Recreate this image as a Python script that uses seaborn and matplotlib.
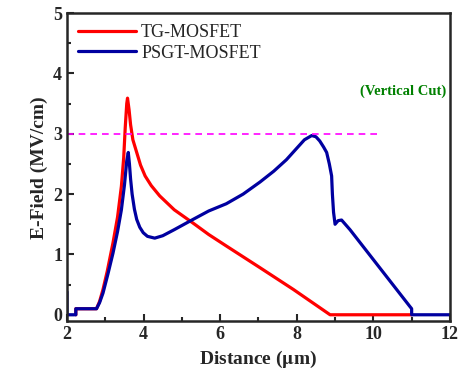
import pandas as pd
import matplotlib.pyplot as plt
import seaborn as sns
from matplotlib.ticker import MultipleLocator

# E-field along vertical cut
tg_x = [2.23, 2.23, 2.77, 2.85, 2.94, 3.05, 3.2, 3.32, 3.42, 3.48, 3.52, 3.56, 3.58,
        3.62, 3.66, 3.72, 3.82, 3.92, 4.04, 4.2, 4.42, 4.8, 5.29, 5.7, 6.16, 7.04,
        7.91, 8.87, 11.0]
tg_y = [0.0, 0.1, 0.1, 0.22, 0.42, 0.72, 1.19, 1.62, 2.13, 2.6, 3.1, 3.5, 3.59,
        3.4, 3.15, 2.9, 2.69, 2.48, 2.3, 2.14, 1.97, 1.74, 1.52, 1.33, 1.14, 0.78,
        0.42, 0.0, 0.0]

psgt_x = [2.0, 2.0, 2.23, 2.23, 2.77, 2.85, 2.94, 3.07, 3.2, 3.32, 3.42, 3.5, 3.56,
          3.6, 3.63, 3.66, 3.7, 3.76, 3.82, 3.9, 3.99, 4.1, 4.29, 4.5, 4.8, 5.29,
          5.7, 6.16, 6.6, 7.04, 7.4, 7.73, 8.0, 8.2, 8.39, 8.5, 8.6, 8.7, 8.78,
          8.85, 8.91, 8.93, 8.96, 9.0, 9.08, 9.17, 9.39, 10.95, 11.0, 11.0, 12.0]
psgt_y = [0.38, 0.0, 0.0, 0.1, 0.1, 0.2, 0.36, 0.68, 1.02, 1.38, 1.74, 2.15, 2.55,
          2.69, 2.5, 2.25, 2.0, 1.75, 1.58, 1.45, 1.36, 1.3, 1.27, 1.31, 1.41, 1.58,
          1.72, 1.84, 2.0, 2.2, 2.38, 2.57, 2.76, 2.9, 2.97, 2.95, 2.88, 2.78, 2.69,
          2.5, 2.3, 2.0, 1.7, 1.5, 1.56, 1.57, 1.41, 0.14, 0.1, 0.0, 0.0]

df = pd.concat([
    pd.DataFrame({"Distance": tg_x, "EField": tg_y, "Device": "TG-MOSFET"}),
    pd.DataFrame({"Distance": psgt_x, "EField": psgt_y, "Device": "PSGT-MOSFET"}),
])

sns.set_style("ticks")
plt.rcParams['font.family'] = ['Liberation Serif', 'DejaVu Serif']
plt.rcParams['mathtext.fontset'] = 'stix'

fig = plt.figure(figsize=(4.67, 3.84), dpi=100)
ax = fig.add_axes([0.1435, 0.163, 0.82, 0.803])

sns.lineplot(data=df, x="Distance", y="EField", hue="Device", sort=False,
             estimator=None,
             palette={"TG-MOSFET": "#ff0000", "PSGT-MOSFET": "#0000a0"},
             linewidth=2.3, ax=ax)

ax.plot([2, 10.12], [3, 3], color="#ff00ff", linestyle=(0, (4, 3)), linewidth=1.2)
ax.text(11.9, 3.71, "(Vertical Cut)", color="#008000", fontweight="bold",
        fontsize=10.5, ha="right", va="center")

ax.set_xlim(2, 12)
ax.set_ylim(-0.11, 5)
ax.xaxis.set_major_locator(MultipleLocator(2))
ax.xaxis.set_minor_locator(MultipleLocator(1))
ax.yaxis.set_major_locator(MultipleLocator(1))
ax.yaxis.set_minor_locator(MultipleLocator(0.5))
ax.tick_params(which="both", direction="in", width=1.5, labelsize=13)
ax.tick_params(which="major", length=5)
ax.tick_params(which="minor", length=3)
for lab in ax.get_xticklabels() + ax.get_yticklabels():
    lab.set_fontweight("bold")
for s in ax.spines.values():
    s.set_linewidth(1.8)

ax.set_xlabel(r"Distance ($\mathbf{\mu}$m)", fontsize=14, fontweight="bold")
ax.set_ylabel("E-Field (MV/cm)", fontsize=14, fontweight="bold")

leg = ax.legend(loc="upper left", frameon=False, fontsize=13, handlelength=3.2,
                borderaxespad=0.2, handletextpad=0.3, labelspacing=0.2)
for line in leg.get_lines():
    line.set_linewidth(2.3)

fig.savefig("out.png", dpi=100)
